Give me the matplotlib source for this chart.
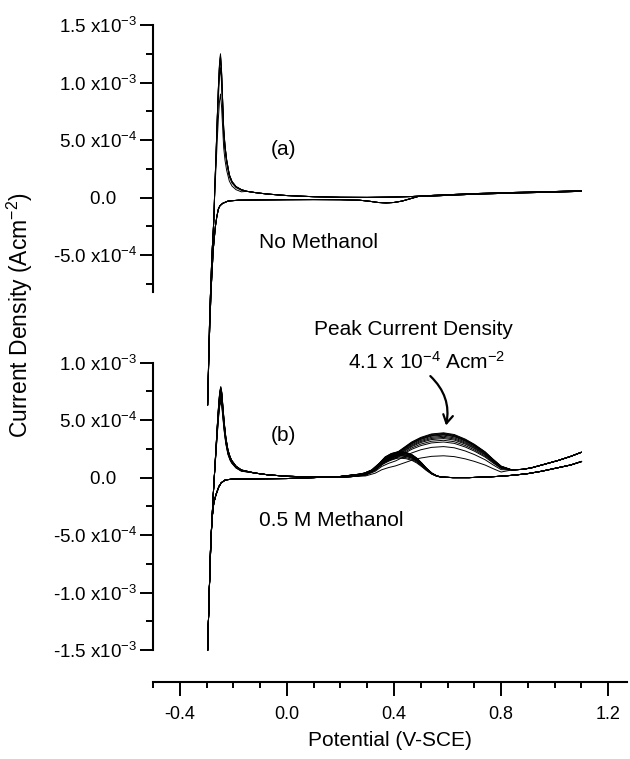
import numpy as np
import matplotlib
matplotlib.use("Agg")
import matplotlib.pyplot as plt
from matplotlib.ticker import MultipleLocator, FuncFormatter

plt.rcParams['font.family'] = ['Liberation Sans', 'DejaVu Sans']
plt.rcParams['mathtext.fontset'] = 'custom'
plt.rcParams['mathtext.rm'] = 'Liberation Sans'
plt.rcParams['mathtext.it'] = 'Liberation Sans:italic'
plt.rcParams['mathtext.default'] = 'regular'
plt.rcParams['axes.unicode_minus'] = False

# ---- (a) no methanol, values in 1e-4 A/cm2 ----
fwd_a_x = [-0.296, -0.288, -0.280, -0.273, -0.269, -0.265, -0.260, -0.256, -0.252,
           -0.248, -0.244, -0.240, -0.236, -0.231, -0.225, -0.215, -0.205, -0.190,
           -0.170, -0.150, -0.116, -0.080, -0.040, 0.000, 0.100, 0.200, 0.300,
           0.400, 0.470, 0.550, 0.700, 0.850, 1.000, 1.100]
fwd_a_y = [-18.0, -10.0, -5.0, -2.0, 1.0, 3.5, 7.0, 9.5, 11.5,
           12.5, 11.0, 8.5, 6.0, 4.5, 3.3, 2.0, 1.4, 0.96,
           0.70, 0.55, 0.43, 0.33, 0.25, 0.18, 0.08, 0.03, 0.02,
           0.05, 0.10, 0.20, 0.35, 0.45, 0.53, 0.60]
rev_a_x = [1.100, 1.000, 0.850, 0.700, 0.550, 0.490, 0.460, 0.430, 0.400, 0.370,
           0.340, 0.310, 0.270, 0.200, 0.100, 0.000, -0.100, -0.180, -0.220,
           -0.240, -0.250, -0.256, -0.262, -0.267, -0.275, -0.283, -0.290, -0.296]
rev_a_y = [0.55, 0.48, 0.40, 0.30, 0.15, 0.10, -0.10, -0.30, -0.42, -0.46,
           -0.42, -0.32, -0.22, -0.18, -0.17, -0.18, -0.20, -0.22, -0.30,
           -0.50, -0.70, -1.00, -1.70, -2.50, -4.50, -8.00, -12.5, -18.0]
h_peak_a = [12.5, 12.4, 12.3, 12.2, 11.3, 9.0]

# ---- (b) 0.5 M methanol, values in 1e-4 A/cm2 ----
fwd_b_x = [-0.296, -0.290, -0.285, -0.280, -0.275, -0.270, -0.265, -0.260, -0.255,
           -0.251, -0.247, -0.243, -0.239, -0.234, -0.228, -0.220, -0.212, -0.206,
           -0.190, -0.170, -0.120, -0.070, 0.000, 0.100, 0.200, 0.250, 0.294,
           0.330, 0.354, 0.380, 0.406, 0.436, 0.466, 0.500, 0.540, 0.585, 0.625,
           0.666, 0.700, 0.740, 0.770, 0.800, 0.840, 0.880, 0.913, 0.960, 1.014,
           1.060, 1.099]
fwd_b_y = [-15.0, -10.0, -6.5, -3.7, -1.5, 0.5, 2.5, 4.5, 6.3,
           7.4, 7.9, 7.4, 6.2, 4.8, 3.5, 2.4, 1.8, 1.5,
           1.0, 0.67, 0.40, 0.24, 0.12, 0.05, 0.05, 0.10, 0.30,
           0.80, 1.40, 1.80, 2.10, 2.60, 3.10, 3.50, 3.80, 3.90, 3.75,
           3.35, 2.90, 2.25, 1.60, 1.00, 0.67, 0.72, 0.85, 1.15, 1.50,
           1.85, 2.20]
rev_b_x = [1.100, 1.060, 1.000, 0.950, 0.900, 0.850, 0.800, 0.740, 0.680, 0.620,
           0.578, 0.560, 0.541, 0.520, 0.504, 0.485, 0.467, 0.445, 0.417, 0.390,
           0.367, 0.345, 0.317, 0.290, 0.268, 0.200, 0.100, 0.000, -0.100, -0.200,
           -0.230, -0.245, -0.254, -0.265, -0.273, -0.280, -0.285, -0.290, -0.296]
rev_b_y = [1.40, 1.10, 0.80, 0.55, 0.35, 0.22, 0.12, 0.05, 0.00, 0.00,
           0.05, 0.15, 0.40, 0.85, 1.26, 1.70, 2.00, 2.20, 2.27, 2.10,
           1.80, 1.25, 0.67, 0.40, 0.30, 0.10, 0.00, -0.08, -0.10, -0.12,
           -0.20, -0.45, -0.78, -1.50, -2.20, -3.70, -6.00, -10.0, -15.0]
ox_peak_b = [3.90, 3.85, 3.80, 3.75, 3.70, 3.60, 3.50, 3.40, 3.25, 3.10, 2.70, 1.90]
rev_peak_b = [2.27, 2.25, 2.22, 2.20, 2.15, 2.10, 2.05, 2.00, 1.95, 1.90, 1.80, 1.70]
h_peak_b = [7.9, 7.9, 7.8, 7.8, 7.7, 7.6, 7.5, 7.3, 7.1, 6.9, 6.8, 6.6]

x_ticks = [-0.4, 0.0, 0.4, 0.8, 1.2]


def fmt(v, pos):
    if abs(v) < 1e-12:
        return '0.0\u2007\u2007'
    e = int(np.floor(np.log10(abs(v)) + 1e-9))
    m = v / 10.0 ** e
    return '%.1f x10$^{%d}$' % (m, e)


def style_y(ax, major):
    ax.yaxis.set_major_locator(MultipleLocator(major))
    ax.yaxis.set_minor_locator(MultipleLocator(major / 2))
    ax.yaxis.set_major_formatter(FuncFormatter(fmt))
    ax.tick_params(axis='y', which='major', direction='out', length=9.5, width=1.4,
                   labelsize=13.5, pad=2)
    ax.tick_params(axis='y', which='minor', direction='out', length=5, width=1.4)
    ax.spines['left'].set_linewidth(1.5)
    ax.patch.set_visible(False)
    for s in ['top', 'right']:
        ax.spines[s].set_visible(False)


fig = plt.figure(figsize=(6.3, 7.59), dpi=100)
W, H = 630.0, 759.0
ax_a = fig.add_axes([153 / W, 1 - 292 / H, (627 - 153) / W, (292 - 25) / H])
ax_b = fig.add_axes([153 / W, 1 - 650 / H, (627 - 153) / W, (650 - 362.7) / H])

# panel (a)
xa_f = np.array(fwd_a_x)
ya_f = np.array(fwd_a_y)
for h in h_peak_a:
    y = np.where((xa_f < -0.15) & (ya_f > 0), ya_f * h / max(h_peak_a), ya_f)
    ax_a.plot(xa_f, y * 1e-4, color='black', lw=0.7, clip_on=False)
    ax_a.plot(rev_a_x, np.array(rev_a_y) * 1e-4, color='black', lw=0.7, clip_on=False)

# panel (b)
xb_f = np.array(fwd_b_x)
yb_f = np.array(fwd_b_y)
xb_r = np.array(rev_b_x)
yb_r = np.array(rev_b_y)
for ox, rv, h in zip(ox_peak_b, rev_peak_b, h_peak_b):
    y = np.where((xb_f > 0.28) & (xb_f < 0.81), yb_f * ox / max(ox_peak_b), yb_f)
    y = np.where((xb_f < -0.15) & (y > 0), y * h / max(h_peak_b), y)
    ax_b.plot(xb_f, y * 1e-4, color='black', lw=0.7, clip_on=False)
    yr = np.where((xb_r > 0.25) & (xb_r < 0.65), yb_r * rv / max(rev_peak_b), yb_r)
    ax_b.plot(xb_r, yr * 1e-4, color='black', lw=0.7, clip_on=False)

for ax in (ax_a, ax_b):
    ax.set_xlim(-0.5, 1.27)

ax_a.set_ylim(-8.2e-4, 1.5e-3)
ax_b.set_ylim(-1.5e-3, 1.0e-3)
style_y(ax_a, 5e-4)
style_y(ax_b, 5e-4)

ax_a.spines['bottom'].set_visible(False)
ax_a.tick_params(axis='x', which='both', bottom=False, labelbottom=False)

ax_b.spines['bottom'].set_position(('outward', 23))
ax_b.spines['bottom'].set_linewidth(1.5)
ax_b.set_xticks(x_ticks)
ax_b.xaxis.set_minor_locator(MultipleLocator(0.1))
ax_b.xaxis.set_major_formatter(FuncFormatter(lambda v, p: '%.1f' % v))
ax_b.tick_params(axis='x', which='major', direction='out', length=10, width=1.4,
                 labelsize=13, pad=7)
ax_b.tick_params(axis='x', which='minor', direction='out', length=4.5, width=1.4)
ax_b.set_xlabel('Potential (V-SCE)', fontsize=15, labelpad=6)

fig.text(20 / W, 1 - 315 / H, 'Current Density (Acm$^{-2}$)', rotation=90,
         ha='center', va='center', fontsize=16.5)

ax_a.text(-0.062, 4.2e-4, '(a)', fontsize=15, ha='left', va='center')
ax_a.text(-0.105, -3.9e-4, 'No Methanol', fontsize=15, ha='left', va='center')
ax_b.text(-0.062, 3.7e-4, '(b)', fontsize=15, ha='left', va='center')
ax_b.text(-0.105, -3.7e-4, '0.5 M Methanol', fontsize=15, ha='left', va='center')
ax_b.text(0.10, 1.29e-3, 'Peak Current Density', fontsize=15, ha='left', va='center')
ax_b.text(0.23, 1.01e-3, '4.1 x 10$^{-4}$ Acm$^{-2}$', fontsize=15, ha='left', va='center')
ax_b.annotate('', xy=(0.592, 4.3e-4), xytext=(0.528, 9.0e-4),
              arrowprops=dict(arrowstyle='->,head_length=0.6,head_width=0.35',
                              connectionstyle='arc3,rad=-0.3', lw=1.6, color='black'))

fig.savefig('out.png', dpi=100)
